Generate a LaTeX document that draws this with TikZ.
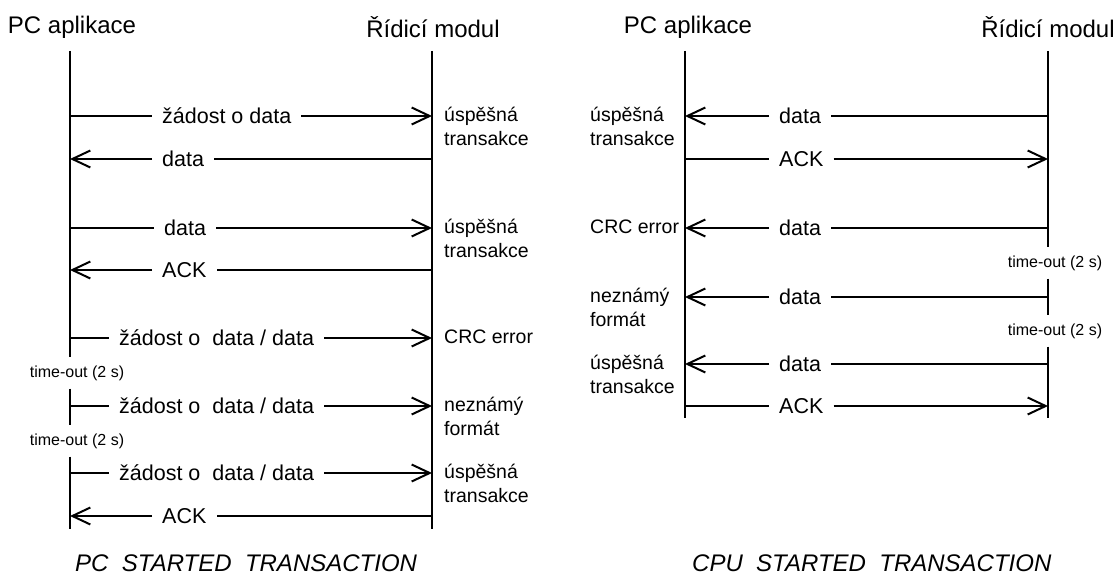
\documentclass[tikz,border=0pt]{standalone}
\usepackage{fontspec}
\setmainfont{Liberation Sans}
\usetikzlibrary{arrows.meta, positioning}
\tikzstyle{head} = [font=\fontsize{24}{28}\selectfont, anchor=base, inner sep=0pt]
\tikzstyle{msg} = [font=\fontsize{21.5}{26}\selectfont, inner xsep=10pt, inner ysep=0pt, text height=14pt, text depth=0pt]
\tikzstyle{note} = [font=\fontsize{19.5}{23.3}\selectfont, align=left, anchor=base west, inner sep=0pt]
\tikzstyle{tout} = [font=\fontsize{16}{19}\selectfont, anchor=base, inner xsep=0pt, inner ysep=8pt]
\tikzstyle{title} = [font=\fontsize{24}{28}\selectfont\itshape, anchor=base west, inner sep=0pt]
\tikzstyle{life} = [line width=2pt]
\tikzstyle{arr} = [line width=2pt, -{Straight Barb[length=18pt, width=17pt]}]

\begin{document}
\begin{tikzpicture}[x=1pt, y=-1pt]
    \useasboundingbox (0,0) rectangle (1115,575);
    % PC started transaction
    \node (pc1) [head] at (72,34) {PC aplikace};
    \node (rm1) [head] at (433,38) {Řídicí modul};
    \coordinate (pcT) at (70,51);
    \coordinate (pcB) at (70,529);
    \coordinate (rmT) at (432,51);
    \coordinate (rmB) at (432,529);
    \node (to1) [tout] at (77,377) {time-out (2 s)};
    \node (to2) [tout] at (77,445) {time-out (2 s)};
    \draw [life] (pcT) -- (pcT |- to1.north);
    \draw [life] (pcT |- to1.south) -- (pcT |- to2.north);
    \draw [life] (pcT |- to2.south) -- (pcB);
    \draw [life] (rmT) -- (rmB);

    \coordinate (a1) at (70,116);
    \coordinate (b1) at (432,116);
    \node (m1) [msg, right=82pt of a1] {žádost o data};
    \draw [life] (a1) -- (m1);
    \draw [arr] (m1) -- (b1);
    \node (n1) [note] at (444,145) {úspěšná\\transakce};

    \coordinate (a2) at (70,159);
    \coordinate (b2) at (432,159);
    \node (m2) [msg, right=82pt of a2] {data};
    \draw [life] (b2) -- (m2);
    \draw [arr] (m2) -- (a2);

    \coordinate (a3) at (70,228);
    \coordinate (b3) at (432,228);
    \node (m3) [msg, right=84pt of a3] {data};
    \draw [life] (a3) -- (m3);
    \draw [arr] (m3) -- (b3);
    \node (n3) [note] at (444,257) {úspěšná\\transakce};

    \coordinate (a4) at (70,270);
    \coordinate (b4) at (432,270);
    \node (m4) [msg, right=82pt of a4] {ACK};
    \draw [life] (b4) -- (m4);
    \draw [arr] (m4) -- (a4);

    \coordinate (a5) at (70,338);
    \coordinate (b5) at (432,338);
    \node (m5) [msg, right=39pt of a5] {žádost o~ data / data};
    \draw [life] (a5) -- (m5);
    \draw [arr] (m5) -- (b5);
    \node (n5) [note] at (444,343) {CRC error};

    \coordinate (a6) at (70,406);
    \coordinate (b6) at (432,406);
    \node (m6) [msg, right=39pt of a6] {žádost o~ data / data};
    \draw [life] (a6) -- (m6);
    \draw [arr] (m6) -- (b6);
    \node (n6) [note] at (444,435) {neznámý\\formát};

    \coordinate (a7) at (70,473);
    \coordinate (b7) at (432,473);
    \node (m7) [msg, right=39pt of a7] {žádost o~ data / data};
    \draw [life] (a7) -- (m7);
    \draw [arr] (m7) -- (b7);
    \node (n7) [note] at (444,502) {úspěšná\\transakce};

    \coordinate (a8) at (70,516);
    \coordinate (b8) at (432,516);
    \node (m8) [msg, right=82pt of a8] {ACK};
    \draw [life] (b8) -- (m8);
    \draw [arr] (m8) -- (a8);

    \node (t1) [title] at (75,571) {PC~ STARTED~ TRANSACTION};

    % CPU started transaction
    \node (pc2) [head] at (688,34) {PC aplikace};
    \node (rm2) [head] at (1048,38) {Řídicí modul};
    \coordinate (pc2T) at (685,51);
    \coordinate (pc2B) at (685,418);
    \coordinate (rm2T) at (1048,51);
    \coordinate (rm2B) at (1048,418);
    \node (to3) [tout] at (1055,267) {time-out (2 s)};
    \node (to4) [tout] at (1055,335) {time-out (2 s)};
    \draw [life] (pc2T) -- (pc2B);
    \draw [life] (rm2T) -- (rm2T |- to3.north);
    \draw [life] (rm2T |- to3.south) -- (rm2T |- to4.north);
    \draw [life] (rm2T |- to4.south) -- (rm2B);

    \coordinate (c1) at (685,116);
    \coordinate (d1) at (1048,116);
    \node (k1) [msg, right=84pt of c1] {data};
    \draw [life] (d1) -- (k1);
    \draw [arr] (k1) -- (c1);
    \node (p1) [note] at (590,145) {úspěšná\\transakce};

    \coordinate (c2) at (685,159);
    \coordinate (d2) at (1048,159);
    \node (k2) [msg, right=84pt of c2] {ACK};
    \draw [life] (c2) -- (k2);
    \draw [arr] (k2) -- (d2);

    \coordinate (c3) at (685,228);
    \coordinate (d3) at (1048,228);
    \node (k3) [msg, right=84pt of c3] {data};
    \draw [life] (d3) -- (k3);
    \draw [arr] (k3) -- (c3);
    \node (p3) [note] at (590,233.5) {CRC error};

    \coordinate (c4) at (685,297);
    \coordinate (d4) at (1048,297);
    \node (k4) [msg, right=84pt of c4] {data};
    \draw [life] (d4) -- (k4);
    \draw [arr] (k4) -- (c4);
    \node (p4) [note] at (590,326) {neznámý\\formát};

    \coordinate (c5) at (685,364);
    \coordinate (d5) at (1048,364);
    \node (k5) [msg, right=84pt of c5] {data};
    \draw [life] (d5) -- (k5);
    \draw [arr] (k5) -- (c5);
    \node (p5) [note] at (590,393) {úspěšná\\transakce};

    \coordinate (c6) at (685,406);
    \coordinate (d6) at (1048,406);
    \node (k6) [msg, right=84pt of c6] {ACK};
    \draw [life] (c6) -- (k6);
    \draw [arr] (k6) -- (d6);

    \node (t2) [title] at (692,571) {CPU~ STARTED~ TRANSACTION};
\end{tikzpicture}
\end{document}
